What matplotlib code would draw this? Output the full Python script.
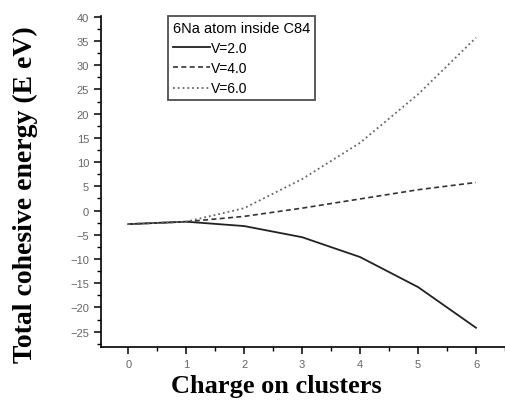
import matplotlib.pyplot as plt
from matplotlib.ticker import MultipleLocator

# charge on clusters and total cohesive energy (eV) for each V
charge = [0, 1, 2, 3, 4, 5, 6]
e_v2 = [-2.8, -2.3, -3.2, -5.5, -9.6, -15.8, -24.2]
e_v4 = [-2.8, -2.3, -1.2, 0.5, 2.4, 4.3, 5.8]
e_v6 = [-2.8, -2.3, 0.5, 6.5, 14.0, 24.0, 35.7]
labels = ['V=2.0', 'V=4.0', 'V=6.0']

fig = plt.figure(figsize=(5.05, 4.02), dpi=100)
ax = fig.add_axes([0.2, 0.134, 0.8, 0.824])

ax.plot(charge, e_v2, '-', color='#222222', lw=1.3, label=labels[0])
ax.plot(charge, e_v4, '--', color='#333333', lw=1.2, dashes=(3, 2), label=labels[1])
ax.plot(charge, e_v6, ':', color='#666666', lw=1.3, label=labels[2])

ax.set_xlim(-0.47, 6.5)
ax.set_ylim(-28.2, 40.2)
ax.xaxis.set_major_locator(MultipleLocator(1))
ax.xaxis.set_minor_locator(MultipleLocator(0.5))
ax.yaxis.set_major_locator(MultipleLocator(5))
ax.yaxis.set_minor_locator(MultipleLocator(2.5))

for s in ['top', 'right']:
    ax.spines[s].set_visible(False)
for s in ['left', 'bottom']:
    ax.spines[s].set_linewidth(1.2)
ax.tick_params(which='major', direction='out', length=5, width=1.1,
               labelsize=8, labelcolor='#666666')
ax.tick_params(which='minor', direction='out', length=3, width=1.0)
for lab in ax.get_xticklabels() + ax.get_yticklabels():
    lab.set_family('Liberation Sans')

# axis titles placed to match the original figure
fig.text(276 / 505, 1 - 387 / 402, 'Charge on clusters', family='Liberation Serif',
         fontweight='bold', fontsize=19, ha='center', va='center')
fig.text(25 / 505, 1 - 195 / 402, 'Total cohesive energy (E eV)',
         family='Liberation Serif', fontweight='bold', fontsize=20,
         rotation=90, ha='center', va='center')

leg = ax.legend(title='6Na atom inside C84', loc='upper left',
                bbox_to_anchor=(0.166, 1.0), frameon=True, fancybox=False,
                handlelength=2.7, handletextpad=0.05, borderpad=0.35,
                labelspacing=0.45, borderaxespad=0, title_fontsize=10.5,
                prop={'family': 'Liberation Sans', 'size': 10})
leg._legend_box.align = 'left'
leg.get_frame().set_edgecolor('#222222')
leg.get_frame().set_linewidth(1.3)
leg.get_title().set_family('Liberation Sans')

fig.savefig('out.png', dpi=100)
